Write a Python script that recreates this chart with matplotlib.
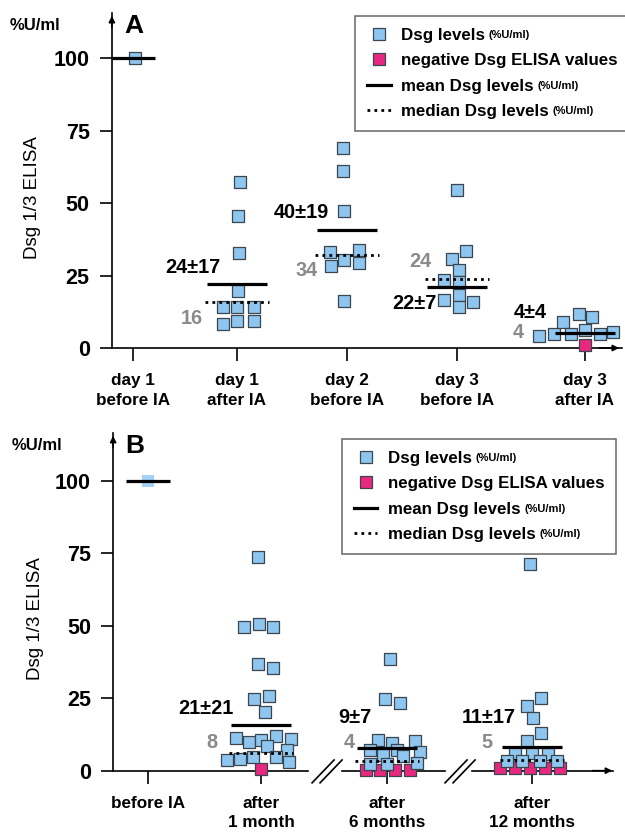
import matplotlib.pyplot as plt
from matplotlib.lines import Line2D

plt.rcParams['font.family'] = ['Liberation Sans', 'DejaVu Sans']

BLUE = '#8ec6f0'
EDGE = '#3c4650'
PINK = '#e8287e'
GRAY = '#8a8a8a'

# ---- panel A data ----
a_groups = ['day 1\nbefore IA', 'day 1\nafter IA', 'day 2\nbefore IA',
            'day 3\nbefore IA', 'day 3\nafter IA']
a_values = [
    [100],
    [57.3, 45.5, 32.6, 19.7, 14.2, 14.2, 14.2, 8.3, 9.4, 9.4],
    [69.1, 61.1, 47.2, 33.0, 33.8, 28.4, 30.3, 29.4, 16.3],
    [54.5, 33.6, 30.7, 26.9, 23.4, 22.9, 18.3, 16.6, 16.0, 14.2],
    [4.2, 4.7, 8.9, 11.7, 10.8, 4.8, 6.2, 4.8, 5.4],
]
a_jitter = [
    [0.02],
    [0.03, 0.01, 0.02, 0.01, -0.14, 0.0, 0.17, -0.14, 0.0, 0.17],
    [-0.04, -0.04, -0.03, -0.17, 0.12, -0.16, -0.03, 0.12, -0.03],
    [0.0, 0.09, -0.05, 0.02, -0.13, 0.02, 0.02, -0.13, 0.16, 0.02],
    [-0.46, -0.31, -0.22, -0.06, 0.07, -0.14, 0.0, 0.15, 0.28],
]
a_neg = [[], [], [], [], [1.0]]
a_neg_jitter = [[], [], [], [], [0.0]]
a_mean = [100, 22, 40.7, 20.9, 5.3]
a_median = [None, 15.8, 32, 23.7, None]
a_mean_text = ['', '24±17', '40±19', '22±7', '4±4']
a_median_text = ['', '16', '34', '24', '4']

# ---- panel B data ----
b_groups = ['before IA', 'after\n1 month', 'after\n6 months', 'after\n12 months']
b_values = [
    [100],
    [73.7, 49.7, 50.6, 49.7, 36.8, 35.5, 24.9, 25.7, 20.3, 11.3, 9.9, 10.5,
     11.9, 11.1, 8.4, 7.2, 3.6, 4.0, 4.6, 4.6, 2.9],
    [38.4, 24.9, 23.2, 10.6, 9.5, 10.1, 7.2, 5.5, 7.0, 4.9, 6.6, 2.3, 2.3, 2.7],
    [71.3, 25.0, 22.3, 18.1, 13.1, 10.2, 6.0, 6.0, 5.7, 3.4, 3.4, 3.4, 3.4],
]
b_jitter = [
    [0.0],
    [-0.03, -0.17, -0.02, 0.12, -0.03, 0.12, -0.07, 0.08, 0.04, -0.25, -0.12, 0.0,
     0.15, 0.30, 0.06, 0.26, -0.34, -0.21, -0.08, 0.15, 0.28],
    [0.03, -0.02, 0.13, -0.09, 0.05, 0.28, -0.17, -0.04, 0.10, 0.16, 0.33, -0.17, 0.0, 0.30],
    [-0.02, 0.09, -0.05, 0.01, 0.09, -0.05, -0.17, 0.0, 0.16, -0.25, -0.10, 0.08, 0.25],
]
b_neg = [[], [0.6], [0.3, 0.3, 0.3, 0.3], [0.8, 0.8, 0.8, 0.8, 0.8]]
b_neg_jitter = [[], [0.0], [-0.21, -0.07, 0.08, 0.23], [-0.32, -0.17, -0.02, 0.13, 0.28]]
b_mean = [100, 15.6, 7.7, 8.2]
b_median = [None, 6.2, 3.2, 3.7]
b_mean_text = ['', '21±21', '9±7', '11±17']
b_median_text = ['', '8', '4', '5']

# ---- layout ----
a_pos = [0.21, 1.25, 2.35, 3.45, 4.73]
b_pos = [0.35, 1.48, 2.74, 4.19]
a_mean_xy = [None, (0.81, 27.9), (1.90, 46.6), (3.03, 15.5), (4.18, 12.4)]
a_median_xy = [None, (0.80, 10.3), (1.95, 26.6), (3.08, 29.7), (4.06, 5.2)]
b_mean_xy = [None, (0.93, 21.3), (2.42, 18.2), (3.76, 18.5)]
b_median_xy = [None, (0.99, 9.6), (2.36, 9.9), (3.74, 9.6)]

fig = plt.figure(figsize=(6.25, 8.32), dpi=100)
ax_a = fig.add_axes([0.179, 0.5817, 0.816, 0.4026])
ax_b = fig.add_axes([0.181, 0.0737, 0.803, 0.4059])


def draw_panel(ax, pos, groups, values, jitter, neg, neg_jitter, mean, median,
               mean_text, median_text, mean_xy, median_xy, xmax, ymax, letter):
    for i in range(len(groups)):
        xs = [pos[i] + j for j in neg_jitter[i]]
        ax.scatter(xs, neg[i], marker='s', s=80, facecolor=PINK, edgecolor=EDGE,
                   lw=0.9, zorder=3, clip_on=False)
        xs = [pos[i] + j for j in jitter[i]]
        if i == 0 and letter == 'B':
            ax.scatter(xs, values[i], marker='s', s=80, facecolor='#a3d2f5',
                       edgecolor='none', zorder=3, clip_on=False)
        else:
            ax.scatter(xs, values[i], marker='s', s=80, facecolor=BLUE,
                       edgecolor=EDGE, lw=0.9, zorder=4, clip_on=False)
        half = 0.22 if i == 0 else 0.3
        ax.plot([pos[i] - half, pos[i] + half], [mean[i], mean[i]], color='k',
                lw=2.3, zorder=5, solid_capstyle='butt')
        if median[i] is not None:
            ax.plot([pos[i] - half - 0.02, pos[i] + half + 0.02], [median[i], median[i]],
                    color='k', lw=2, ls=(0, (1, 1.5)), zorder=5)
        if mean_xy[i] is not None:
            ax.text(*mean_xy[i], mean_text[i], ha='center', va='center',
                    fontsize=14.3, fontweight='bold', zorder=6)
            ax.text(*median_xy[i], median_text[i], ha='center', va='center',
                    fontsize=14.3, fontweight='bold', color=GRAY, zorder=6)

    ax.set_xlim(0, xmax)
    ax.set_ylim(0, ymax)
    ax.set_xticks(pos)
    ax.set_xticklabels(groups, fontsize=12.3, fontweight='bold', linespacing=1.4)
    ax.set_yticks([0, 25, 50, 75, 100])
    ax.set_yticklabels(['0', '25', '50', '75', '100'], fontsize=15.5, fontweight='bold')
    ax.tick_params(axis='both', length=9, width=1.2, direction='out')
    ax.tick_params(axis='x', pad=9)
    ax.tick_params(axis='y', pad=7)
    for s in ['top', 'right']:
        ax.spines[s].set_visible(False)
    ax.spines['left'].set_linewidth(1.2)
    ax.spines['bottom'].set_linewidth(1.2)
    ax.annotate('', xy=(0, 1.0), xycoords='axes fraction', xytext=(0, 0.95),
                arrowprops=dict(arrowstyle='-|>', color='k', lw=1.2, mutation_scale=9))
    ax.annotate('', xy=(1.0, 0), xycoords='axes fraction', xytext=(0.95, 0),
                arrowprops=dict(arrowstyle='-|>', color='k', lw=1.2, mutation_scale=9))
    ax.text(-0.155, 0.45, 'Dsg 1/3 ELISA', transform=ax.transAxes, rotation=90,
            ha='center', va='center', fontsize=13.5)
    ax.text(-0.151, 0.962, '%U/ml', transform=ax.transAxes, ha='center',
            va='center', fontsize=12, fontweight='bold')
    ax.text(0.025, 0.962, letter, transform=ax.transAxes, ha='left',
            va='center', fontsize=19, fontweight='bold')

    handles = [
        Line2D([], [], marker='s', ls='none', ms=9, mfc=BLUE, mec=EDGE, mew=0.9),
        Line2D([], [], marker='s', ls='none', ms=9, mfc=PINK, mec=EDGE, mew=0.9),
        Line2D([], [], color='k', lw=2.3),
        Line2D([], [], color='k', lw=2, ls=(0, (1, 1.5))),
    ]
    labels = ['Dsg levels', 'negative Dsg ELISA values', 'mean Dsg levels',
              'median Dsg levels']
    return handles, labels


legend_style = dict(loc='upper left', prop={'weight': 'bold', 'size': 12.2},
                    frameon=True, fancybox=False, edgecolor='#666666', framealpha=1,
                    handlelength=1.4, handletextpad=0.6, labelspacing=0.62,
                    borderpad=0.7, borderaxespad=0)

h, l = draw_panel(ax_a, a_pos, a_groups, a_values, a_jitter, a_neg, a_neg_jitter,
                  a_mean, a_median, a_mean_text, a_median_text, a_mean_xy, a_median_xy,
                  5.1, 115.5, 'A')
leg_a = fig.legend(h, l, bbox_to_anchor=(0.568, 0.981), **legend_style)
leg_a.get_frame().set_linewidth(1.1)

h, l = draw_panel(ax_b, b_pos, b_groups, b_values, b_jitter, b_neg, b_neg_jitter,
                  b_mean, b_median, b_mean_text, b_median_text, b_mean_xy, b_median_xy,
                  5.02, 116.6, 'B')
leg_b = fig.legend(h, l, bbox_to_anchor=(0.547, 0.4724), **legend_style)
leg_b.get_frame().set_linewidth(1.1)

# broken x-axis in panel B
ax_b.spines['bottom'].set_visible(False)
for x0, x1 in [(0, 1.95), (2.29, 3.32), (3.59, 5.0)]:
    ax_b.plot([x0, x1], [0, 0], color='k', lw=1.2, clip_on=False, zorder=2)
for bx in [2.14, 3.47]:
    for dx in [-0.04, 0.04]:
        ax_b.plot([bx + dx - 0.11, bx + dx + 0.11], [-4.2, 3.7], color='k', lw=1.2,
                  clip_on=False)

# small unit text after legend labels
fig.canvas.draw()
for leg in [leg_a, leg_b]:
    for k in [0, 2, 3]:
        bb = leg.get_texts()[k].get_window_extent()
        fig.text((bb.x1 + 4) / fig.bbox.width, (bb.y0 + 3) / fig.bbox.height,
                 '(%U/ml)', fontsize=8, fontweight='bold', va='bottom', ha='left',
                 zorder=10)

fig.savefig('out.png', dpi=100)
